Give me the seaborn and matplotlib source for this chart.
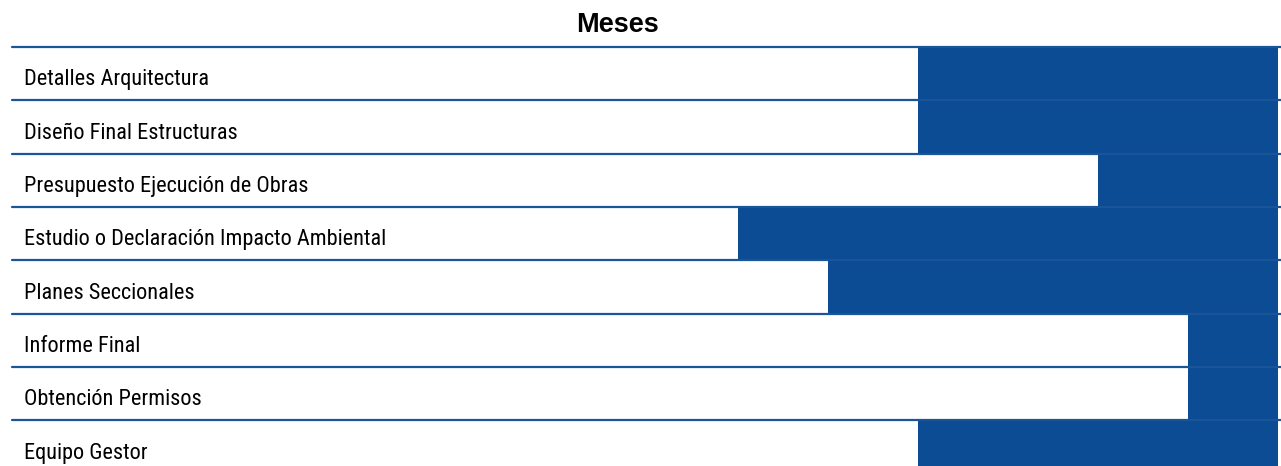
import matplotlib
matplotlib.use("Agg")
import matplotlib.pyplot as plt
from matplotlib import font_manager as fm
import seaborn as sns
import pandas as pd

tasks = [
    "Detalles Arquitectura",
    "Diseño Final Estructuras",
    "Presupuesto Ejecución de Obras",
    "Estudio o Declaración Impacto Ambiental",
    "Planes Seccionales",
    "Informe Final",
    "Obtención Permisos",
    "Equipo Gestor",
]
start_month = [10, 10, 12, 8, 9, 13, 13, 10]
end_month = [14, 14, 14, 14, 14, 14, 14, 14]
title = "Meses"

BLUE = "#0B4C94"
LINE = "#1A5599"

sns.set_theme(style="white")

available = {f.name for f in fm.fontManager.ttflist}
narrow = next((n for n in ["Liberation Sans Narrow", "Arial Narrow", "Roboto Condensed",
                           "PT Sans Narrow", "Archivo Narrow", "Liberation Sans"]
               if n in available), "DejaVu Sans")
label_family = [narrow, "DejaVu Sans"]
plt.rcParams["font.family"] = label_family

df = pd.DataFrame({"task": tasks, "start": start_month, "end": end_month})

fig = plt.figure(figsize=(12.81, 4.66), dpi=100)
ax = fig.add_axes([12 / 1281, 0, 1 - 12 / 1281, (466 - 47) / 466])

sns.barplot(data=df, x="end", y="task", orient="h", color=BLUE, width=1.0,
            saturation=1, ax=ax, zorder=1)
sns.barplot(data=df, x="start", y="task", orient="h", color="white", width=1.0,
            saturation=1, ax=ax, zorder=2)
for p in ax.patches:
    p.set_edgecolor("none")

for i in range(len(tasks)):
    ax.axhline(i - 0.5, color=LINE, lw=1.6, zorder=3, clip_on=False)

for i, t in enumerate(tasks):
    ax.text(0.06, i + 0.22, t, va="baseline", ha="left", fontsize=16,
            color="black", zorder=4, family=label_family)

ax.set_xlim(-0.07, 14.03)
ax.set_ylim(7.36, -0.5)
ax.set_xlabel("")
ax.set_ylabel("")
ax.set_xticks([])
ax.set_yticks([])
for s in ax.spines.values():
    s.set_visible(False)

fig.text(617 / 1281, 1 - 25 / 466, title, ha="center", va="center", color="black",
         fontsize=19.5, fontweight="bold", family=["Liberation Sans", "DejaVu Sans"])

fig.savefig("out.png", dpi=100, facecolor="white")
